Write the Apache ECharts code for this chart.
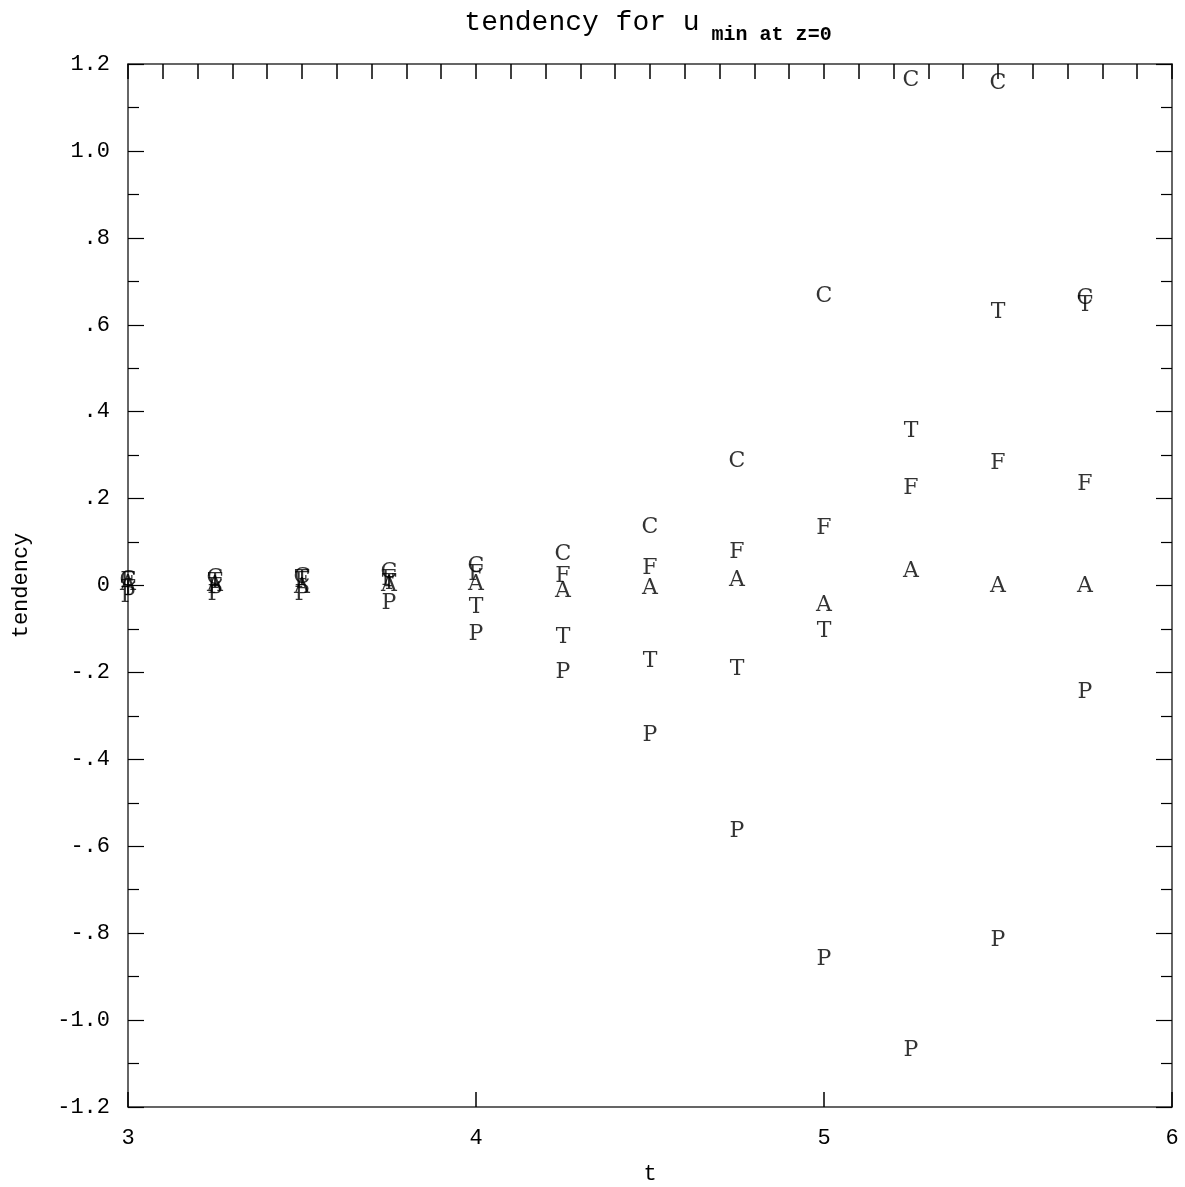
<!DOCTYPE html>
<html>
<head>
<meta charset="utf-8">
<title>tendency for u min at z=0</title>
<script src="https://cdn.jsdelivr.net/npm/echarts@6/dist/echarts.min.js"></script>
<style>
  html, body { margin: 0; padding: 0; background: #fff; overflow: hidden; }
  #chart { width: 1185px; height: 1187px; }
</style>
</head>
<body>
<div id="chart"></div>
<script>
// Sample times
const times = [3, 3.25, 3.5, 3.75, 4, 4.25, 4.5, 4.75, 5, 5.25, 5.5, 5.75];

// Tendency terms, one letter per term
const termC = [0.012, 0.016, 0.020, 0.030, 0.044, 0.071, 0.133, 0.285, 0.665, 1.162, 1.155, 0.660];
const termF = [0.010, -0.005, 0.010, 0.014, 0.025, 0.021, 0.039, 0.076, 0.131, 0.223, 0.281, 0.232];
const termA = [0.002, 0.000, -0.005, 0.000, 0.002, -0.014, -0.007, 0.012, -0.046, 0.032, -0.002, -0.002];
const termT = [-0.008, 0.007, 0.015, 0.005, -0.050, -0.120, -0.175, -0.193, -0.106, 0.354, 0.628, 0.645];
const termP = [-0.025, -0.020, -0.020, -0.040, -0.113, -0.200, -0.345, -0.566, -0.861, -1.070, -0.817, -0.246];

const seriesLetters = ['C', 'F', 'A', 'T', 'P'];
const seriesValues = [termC, termF, termA, termT, termP];

// Tick label text on the tendency axis
const yTickValues = [1.2, 1.0, 0.8, 0.6, 0.4, 0.2, 0, -0.2, -0.4, -0.6, -0.8, -1.0, -1.2];
const yTickLabels = ['1.2', '1.0', '.8', '.6', '.4', '.2', '0', '-.2', '-.4', '-.6', '-.8', '-1.0', '-1.2'];
const xTickLabels = ['3', '4', '5', '6'];

const MONO = '"Liberation Mono", "DejaVu Sans Mono", monospace';
const SERIF = '"DejaVu Serif", "Liberation Serif", serif';
const frame = { show: true, onZero: false, lineStyle: { color: '#333', width: 1.5 } };

function yLabel(v) {
  for (let i = 0; i < yTickValues.length; i++) {
    if (Math.abs(yTickValues[i] - v) < 1e-6) return yTickLabels[i];
  }
  return '';
}

const chart = echarts.init(document.getElementById('chart'), null, { renderer: 'canvas' });

const option = {
  backgroundColor: '#fff',
  animation: false,
  grid: { left: 128, right: 13, top: 64, bottom: 80, containLabel: false, outerBoundsMode: 'none' },
  graphic: [{
    type: 'text',
    x: 648,
    y: 5,
    style: {
      text: '{a|tendency for u}{b| min at z=0}',
      align: 'center',
      rich: {
        a: { fontFamily: MONO, fontSize: 28, fill: '#000', lineHeight: 32, verticalAlign: 'bottom' },
        b: { fontFamily: MONO, fontSize: 20, fontWeight: 'bold', fill: '#000', lineHeight: 32, verticalAlign: 'bottom', padding: [0, 0, -8, 0] }
      }
    }
  }],
  xAxis: [{
    type: 'value',
    position: 'bottom',
    min: 3, max: 6, interval: 1,
    name: 't',
    nameLocation: 'middle',
    nameGap: 56,
    nameTextStyle: { fontFamily: MONO, fontSize: 22, color: '#000' },
    axisLine: frame,
    axisTick: { show: true, inside: true, length: 15, lineStyle: { color: '#000', width: 1.5 } },
    axisLabel: {
      fontFamily: MONO, fontSize: 22, color: '#000', margin: 20,
      formatter: v => xTickLabels[Math.round(v) - 3] || ''
    },
    splitLine: { show: false }
  }, {
    type: 'value',
    position: 'top',
    min: 3, max: 6, interval: 1,
    axisLine: frame,
    axisTick: { show: true, inside: true, length: 15, lineStyle: { color: '#000', width: 1.5 } },
    minorTick: { show: true, splitNumber: 10, length: 15, lineStyle: { color: '#000', width: 1.5 } },
    axisLabel: { show: false },
    splitLine: { show: false }
  }],
  yAxis: [{
    type: 'value',
    position: 'left',
    min: -1.2, max: 1.2, interval: 0.2,
    name: 'tendency',
    nameLocation: 'middle',
    nameGap: 96,
    nameRotate: 90,
    nameTextStyle: { fontFamily: MONO, fontSize: 22, color: '#000' },
    axisLine: frame,
    axisTick: { show: true, inside: true, length: 16, lineStyle: { color: '#000', width: 1.2 } },
    minorTick: { show: true, splitNumber: 2, length: 11, lineStyle: { color: '#000', width: 1.2 } },
    axisLabel: {
      fontFamily: MONO, fontSize: 22, color: '#000', margin: 18,
      formatter: yLabel
    },
    splitLine: { show: false }
  }, {
    type: 'value',
    position: 'right',
    min: -1.2, max: 1.2, interval: 0.2,
    axisLine: frame,
    axisTick: { show: true, inside: true, length: 16, lineStyle: { color: '#000', width: 1.2 } },
    minorTick: { show: true, splitNumber: 2, length: 11, lineStyle: { color: '#000', width: 1.2 } },
    axisLabel: { show: false },
    splitLine: { show: false }
  }],
  series: seriesLetters.map((letter, k) => ({
    name: letter,
    type: 'scatter',
    xAxisIndex: 0,
    yAxisIndex: 0,
    symbol: 'circle',
    symbolSize: 1,
    itemStyle: { color: 'rgba(0,0,0,0)' },
    data: times.map((t, i) => [t, seriesValues[k][i]]),
    label: {
      show: true,
      position: 'inside',
      formatter: letter,
      fontFamily: SERIF,
      fontSize: 22,
      color: '#000'
    },
    emphasis: { disabled: true }
  }))
};

chart.setOption(option);
</script>
</body>
</html>
